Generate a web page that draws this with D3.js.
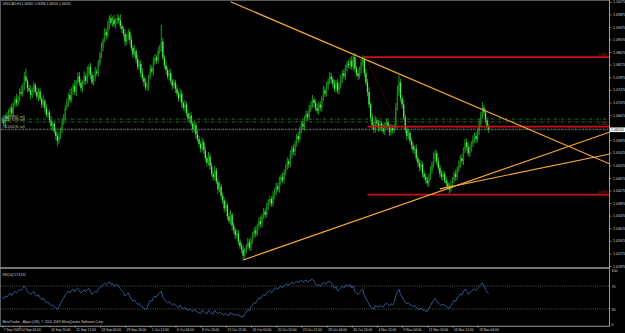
<!DOCTYPE html>
<html>
<head>
<meta charset="utf-8">
<script src="https://cdn.jsdelivr.net/npm/d3@7"></script>
<style>
body { margin: 0; background: #000; }
svg { display: block; }
text { font-family: "Liberation Sans", Arial, sans-serif; }
</style>
</head>
<body>
<svg id="chart" width="625" height="333"></svg>
<script>
// USDCAD H4, prices in pips above 1.0000 (close of each bar, open = previous close)
var closes = [
    650,640,662,655,676,690,672,700,716,705,
    722,740,735,760,790,775,752,745,730,748,
    762,740,725,742,718,700,712,690,668,675,
    650,632,640,615,600,585,598,620,645,660,
    690,705,730,715,745,760,740,772,790,770,
    752,770,790,775,800,820,795,770,788,805,
    800,830,860,880,905,930,920,950,975,960,
    970,955,965,975,968,950,940,925,900,915,
    930,905,880,860,870,845,820,830,800,785,
    770,755,760,790,815,805,835,850,840,870,
    880,900,850,825,810,790,800,775,760,770,
    750,735,720,735,705,690,700,672,655,665,
    640,622,635,605,590,575,560,580,555,530,
    515,535,505,480,470,490,455,430,440,410,
    395,370,380,345,330,350,315,300,285,290,
    265,250,240,220,235,250,262,245,270,285,
    300,290,315,330,320,345,360,350,375,390,
    400,385,410,425,440,430,455,470,460,485,
    500,520,510,540,560,550,575,600,590,620,
    640,630,655,670,660,685,700,715,705,690,
    680,700,690,720,745,735,760,775,790,780,
    765,750,770,745,760,780,800,790,815,830,
    825,840,820,850,815,800,790,810,835,845,
    800,770,740,700,660,635,620,650,640,625,
    640,625,615,635,645,630,612,625,618,630,
    690,740,770,720,700,660,620,600,610,585,
    570,555,560,530,515,500,510,480,470,460,
    450,470,490,510,530,545,520,500,480,470,
    480,460,450,440,430,445,460,480,470,495,
    510,530,520,555,580,565,545,560,575,590,
    600,590,615,640,665,690,675,650,630,620
];
var wickUp = [
    8,12,6,15,9,5,14,7,10,18,  6,11,20,9,14,25,8,12,16,7,
    10,6,15,9,12,7,18,6,11,9,  8,14,6,10,12,9,16,7,13,10,
    9,15,7,20,10,8,18,6,12,14,  11,7,16,9,22,8,13,10,6,15,
    9,12,8,18,7,14,10,16,8,12,  10,15,9,13,8,20,11,7,14,9,
    12,8,15,10,18,7,14,9,12,16,  8,14,10,6,12,9,15,11,8,13,
    10,53,12,8,15,9,11,14,7,10,  9,13,8,16,10,7,14,9,12,8,
    11,7,15,9,13,10,8,16,9,12,  8,14,10,12,7,15,9,11,13,8,
    10,9,14,8,12,16,7,11,9,13,  12,8,10,14,9,7,15,11,8,10,
    9,13,7,11,15,8,12,10,14,9,  11,8,14,9,12,10,16,7,13,9,
    10,12,8,15,9,13,11,7,14,10,  8,15,10,12,9,14,11,16,8,12,
    13,9,11,8,15,10,12,9,14,11,  9,14,8,12,10,16,9,13,11,8,
    12,10,15,8,14,9,13,11,10,12,  9,13,11,15,8,12,10,14,9,11,
    10,8,14,9,12,11,7,13,10,9,  15,20,25,12,10,14,9,11,13,8,
    10,12,9,14,8,11,13,9,10,12,  9,11,14,10,18,12,8,13,9,11,
    10,8,12,9,11,14,10,8,13,9,  12,10,14,9,11,13,15,10,9,12,
    11,13,10,14,12,18,9,11,10,8
];
var wickDn = [
    10,7,13,9,6,14,8,11,7,12,  9,13,7,10,15,8,12,6,14,9,
    12,8,10,14,7,11,9,15,8,10,  9,11,14,8,13,16,10,7,12,9,
    11,8,12,10,7,14,9,13,8,11,  10,14,8,12,9,11,15,7,10,13,
    8,11,9,13,10,7,14,9,12,8,  12,9,14,8,11,10,13,9,15,10,
    9,13,10,12,8,14,11,9,13,10,  11,8,12,15,9,10,13,8,11,9,
    10,12,8,11,14,9,13,10,12,8,  13,9,11,8,14,10,12,9,11,13,
    9,12,10,14,8,11,13,9,12,10,  11,8,13,9,12,10,8,14,9,11,
    10,13,9,12,8,11,14,10,12,9,  11,9,12,15,10,8,11,9,10,12,
    9,11,8,13,10,12,9,11,8,10,  12,10,9,11,13,8,10,12,9,11,
    10,8,12,9,11,10,13,9,12,8,  11,9,13,8,12,10,9,11,13,10,
    9,12,10,13,8,11,9,14,10,12,  11,9,12,10,13,8,11,9,12,10,
    10,12,9,11,13,10,12,9,11,13,  12,10,14,11,13,12,10,9,11,12,
    9,11,8,12,10,9,13,10,11,9,  10,9,12,11,13,10,12,14,9,11,
    12,10,13,9,11,12,10,13,9,11,  10,12,9,11,10,13,12,10,11,9,
    11,9,12,10,12,9,11,10,12,10,  9,11,10,12,9,11,10,12,9,10,
    10,12,9,11,10,9,12,10,11,10
];

var priceTicks = [
    1.0187, 1.0227, 1.0267, 1.0307, 1.0347, 1.0387, 1.0427, 1.0467, 1.0507, 1.0547, 1.0587,
    1.0627, 1.0667, 1.0707, 1.0747, 1.0787, 1.0827, 1.0867, 1.0907, 1.0947, 1.0987, 1.1027
];
var timeLabels = [
    "7 Sep 2009", "14 Sep 04:00", "16 Sep 20:00", "21 Sep 12:00", "24 Sep 04:00",
    "28 Sep 20:00", "1 Oct 12:00", "6 Oct 04:00", "8 Oct 20:00", "13 Oct 12:00",
    "16 Oct 04:00", "20 Oct 20:00", "23 Oct 12:00", "28 Oct 04:00", "30 Oct 20:00",
    "4 Nov 12:00", "9 Nov 04:00", "11 Nov 20:00", "16 Nov 12:00", "19 Nov 04:00"
];
var timeBars = [0, 11, 30, 46, 62, 78, 94, 110, 126, 142, 158, 174, 190, 206, 222, 238, 254, 270, 286, 302];

// horizontal levels and where they start (bar index)
var hLevels = [1.0851, 1.0630, 1.0414];
var hStarts = [230, 232, 232];
// open orders
var orderPrices = [1.0654, 1.0645, 1.0622];
var orderLabels = ["#51196361 sell", "#51127074 sell", "#51140235 sell"];
// trend lines [bar, price] -> [bar, price]
var trendLines = [
    [[145, 1.1027], [386, 1.0511]],
    [[153, 1.0206], [386, 1.0613]],
    [[278, 1.0432], [386, 1.0543]]
];
var dottedLine = [[232, 1.0836], [250, 1.0651]];
var rsiLevels = [70, 30];
var rsiTicks = [100, 70, 30, 0];

var svg = d3.select("#chart");
svg.append("rect").attr("width", 625).attr("height", 333).attr("fill", "#000");

var x = d3.scaleLinear().domain([0, 386]).range([2.3, 609.9]);
var y = d3.scaleLinear().domain([1.0187, 1.1027]).range([266, 1.7]);
var yr = d3.scaleLinear().domain([0, 100]).range([326.25, 268.75]);

function pip(v) { return 1 + v / 10000; }

var bars = closes.map(function (c, i) {
    var o = i > 0 ? closes[i - 1] : c;
    return {
        i: i, o: pip(o), c: pip(c),
        h: pip(Math.max(o, c) + wickUp[i]),
        l: pip(Math.min(o, c) - wickDn[i])
    };
});
var last = bars[bars.length - 1];

var defs = svg.append("defs");
defs.append("clipPath").attr("id", "pricePane")
    .append("rect").attr("x", 1).attr("y", 1).attr("width", 608.5).attr("height", 266.3);
defs.append("clipPath").attr("id", "rsiPane")
    .append("rect").attr("x", 1).attr("y", 269).attr("width", 608.5).attr("height", 56.5);

var pane = svg.append("g").attr("clip-path", "url(#pricePane)");

// candles
var candles = pane.append("g").selectAll("g").data(bars).enter().append("g");
candles.append("line")
    .attr("x1", function (d) { return x(d.i); })
    .attr("x2", function (d) { return x(d.i); })
    .attr("y1", function (d) { return y(d.h); })
    .attr("y2", function (d) { return y(d.l); })
    .attr("stroke", "#1fa81f")
    .attr("stroke-width", 0.9);
candles.append("rect")
    .attr("x", function (d) { return x(d.i) - 0.65; })
    .attr("width", 1.3)
    .attr("y", function (d) { return y(Math.max(d.o, d.c)); })
    .attr("height", function (d) { return Math.max(0.6, Math.abs(y(d.o) - y(d.c))); })
    .attr("fill", function (d) { return d.c >= d.o ? "#168416" : "#55ee55"; });

// order lines
orderPrices.forEach(function (p, k) {
    pane.append("line")
        .attr("x1", 1).attr("x2", 609)
        .attr("y1", y(p)).attr("y2", y(p))
        .attr("stroke", k < 2 ? "#2a8a2a" : "#7a7a7a")
        .attr("stroke-width", 0.8)
        .attr("stroke-dasharray", k < 2 ? "3,1.5,1,1.5" : "2,1.5");
    svg.append("text")
        .attr("x", 2).attr("y", y(p) - 1.2)
        .attr("font-size", 3.4)
        .attr("fill", "#b8b8b8")
        .text(orderLabels[k]);
});

// bid line
pane.append("line")
    .attr("x1", 1).attr("x2", 609)
    .attr("y1", y(last.c)).attr("y2", y(last.c))
    .attr("stroke", "#8a8a8a").attr("stroke-width", 0.6)
    .attr("stroke-dasharray", "1,1");

// red levels
hLevels.forEach(function (p, k) {
    pane.append("line")
        .attr("x1", x(hStarts[k])).attr("x2", 609)
        .attr("y1", y(p)).attr("y2", y(p))
        .attr("stroke", "#c81414")
        .attr("stroke-width", 1.8);
    svg.append("text")
        .attr("x", 607.5).attr("y", y(p) - 1.5)
        .attr("text-anchor", "end")
        .attr("font-size", 3)
        .attr("fill", "#c02020")
        .text(d3.format(".4f")(p));
});

// red dotted line
pane.append("line")
    .attr("x1", x(dottedLine[0][0])).attr("y1", y(dottedLine[0][1]))
    .attr("x2", x(dottedLine[1][0])).attr("y2", y(dottedLine[1][1]))
    .attr("stroke", "#b01010").attr("stroke-width", 0.7)
    .attr("stroke-dasharray", "1,1.3");

// trend lines
trendLines.forEach(function (t) {
    pane.append("line")
        .attr("x1", x(t[0][0])).attr("y1", y(t[0][1]))
        .attr("x2", x(t[1][0])).attr("y2", y(t[1][1]))
        .attr("stroke", "#f5a634")
        .attr("stroke-width", 1.2);
});

// RSI(14), Wilder smoothing
var rsi = [];
var ag = 0.0010, al = 0.0010;
bars.forEach(function (b, i) {
    if (i > 0) {
        var d = b.c - bars[i - 1].c;
        ag = (ag * 13 + Math.max(d, 0)) / 14;
        al = (al * 13 + Math.max(-d, 0)) / 14;
    }
    rsi.push({ i: i, v: 100 - 100 / (1 + ag / al) });
});

var rp = svg.append("g").attr("clip-path", "url(#rsiPane)");
rsiLevels.forEach(function (lv) {
    rp.append("line")
        .attr("x1", 1).attr("x2", 609)
        .attr("y1", yr(lv)).attr("y2", yr(lv))
        .attr("stroke", "#8c8c8c").attr("stroke-width", 0.6)
        .attr("stroke-dasharray", "1,1.2");
});
rp.append("path")
    .datum(rsi)
    .attr("fill", "none")
    .attr("stroke", "#3f6cb0")
    .attr("stroke-width", 0.8)
    .attr("d", d3.line().x(function (d) { return x(d.i); }).y(function (d) { return yr(d.v); }));

// frame
var grey = "#9a9a9a";
svg.append("line").attr("x1", 0.5).attr("x2", 0.5).attr("y1", 0).attr("y2", 326).attr("stroke", "#5a5a5a");
svg.append("line").attr("x1", 0).attr("x2", 610).attr("y1", 0.5).attr("y2", 0.5).attr("stroke", "#5a5a5a");
svg.append("line").attr("x1", 0).attr("x2", 610).attr("y1", 268).attr("y2", 268).attr("stroke", grey).attr("stroke-width", 1.5);

// price axis (the label hidden under the current price box is left out)
var boxY = y(last.c);
var shownTicks = priceTicks.filter(function (p) { return Math.abs(y(p) - boxY) > 4.5; });
var yAxis = svg.append("g").attr("transform", "translate(609.5,0)")
    .call(d3.axisRight(y).tickValues(shownTicks).tickFormat(d3.format(".5f")).tickSize(2).tickPadding(1.5));
yAxis.select(".domain").remove();
yAxis.selectAll("line").attr("stroke", "#c8c8c8").attr("stroke-width", 0.6);
yAxis.selectAll("text").attr("font-size", 3.6).attr("fill", "#d4d4d4").attr("font-family", "Liberation Sans, Arial, sans-serif");

// rsi axis
var rAxis = svg.append("g").attr("transform", "translate(609.5,0)")
    .call(d3.axisRight(yr).tickValues(rsiTicks).tickFormat(d3.format("d")).tickSize(0).tickPadding(2));
rAxis.select(".domain").remove();
rAxis.selectAll("text").attr("font-size", 3.6).attr("fill", "#d4d4d4").attr("font-family", "Liberation Sans, Arial, sans-serif")
    .attr("dy", function (d) { return d === 100 ? "0.9em" : (d === 0 ? "-0.1em" : "0.32em"); });

svg.append("line").attr("x1", 609.5).attr("x2", 609.5).attr("y1", 0).attr("y2", 326).attr("stroke", grey);

// current price box
svg.append("rect").attr("x", 610).attr("y", boxY - 2.3).attr("width", 15).attr("height", 4.6).attr("fill", "#fff");
svg.append("text").attr("x", 611).attr("y", boxY).attr("dy", "0.34em")
    .attr("font-size", 3.6).attr("fill", "#000").text(d3.format(".5f")(last.c));

// time axis
var xAxis = svg.append("g").attr("transform", "translate(0,325.75)")
    .call(d3.axisBottom(x).tickValues(timeBars)
        .tickFormat(function (d, i) { return timeLabels[i]; }).tickSize(1.8).tickPadding(1.2));
xAxis.select(".domain").attr("d", "M0,0.5H610").attr("stroke", grey);
xAxis.selectAll("line").attr("stroke", "#c8c8c8").attr("stroke-width", 0.6);
xAxis.selectAll("text").attr("font-size", 3.3).attr("fill", "#d4d4d4")
    .attr("text-anchor", "start").attr("dx", "0.3em")
    .attr("font-family", "Liberation Sans, Arial, sans-serif");

// texts
var f5 = d3.format(".5f");
svg.append("text").attr("x", 2.5).attr("y", 5.3).attr("font-size", 3.2).attr("fill", "#cfcfcf")
    .text("USDCAD,H4 " + [last.o, last.h, last.l, last.c].map(f5).join(" "));
svg.append("text").attr("x", 2.5).attr("y", 275.5).attr("font-size", 3.2).attr("fill", "#cfcfcf")
    .text("RSI(14) 57.6132");
svg.append("text").attr("x", 2.5).attr("y", 323.4).attr("font-size", 3.4).attr("fill", "#cfcfcf")
    .text("MetaTrader - Alpari (UK), \u00a9 2001-2009 MetaQuotes Software Corp.");
</script>
</body>
</html>
